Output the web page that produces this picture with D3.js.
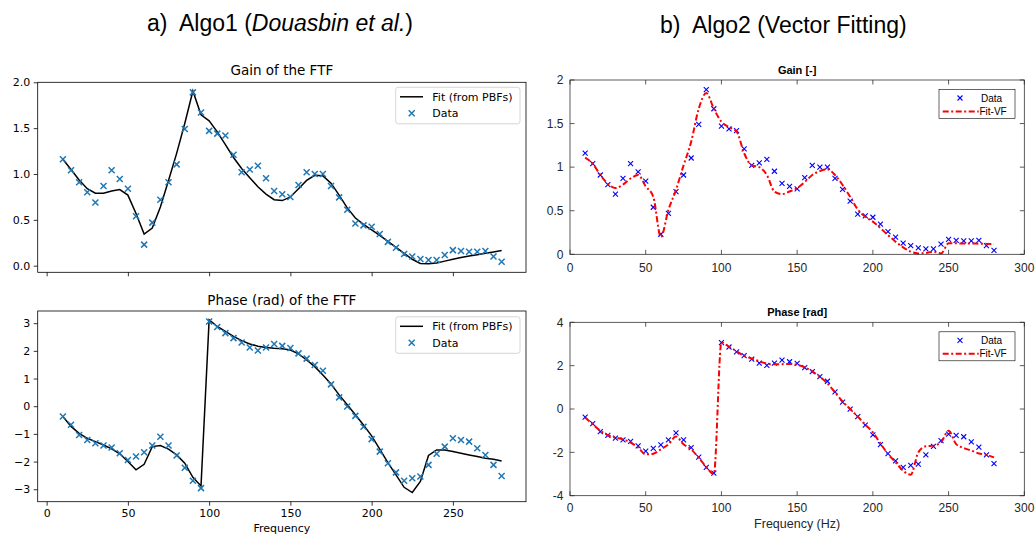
<!DOCTYPE html>
<html><head><meta charset="utf-8">
<script src="https://cdn.jsdelivr.net/npm/d3@7"></script>
<style>body{margin:0;background:#fff} svg{display:block}</style>
</head><body><svg id="c" width="1035" height="540"></svg>
<script>
// ---------------- DATA ----------------
const freq = [10,15,20,25,30,35,40,45,50,55,
  60,65,70,75,80,85,90,95,100,105,
  110,115,120,125,130,135,140,145,150,155,
  160,165,170,175,180,185,190,195,200,205,
  210,215,220,225,230,235,240,245,250,255,
  260,265,270,275,280];

const gainData = [1.16,1.04,0.91,0.80,0.69,0.87,1.04,0.945,0.84,0.54,
  0.23,0.47,0.72,0.91,1.105,1.49,1.89,1.67,1.47,1.44,
  1.42,1.21,1.02,1.05,1.09,0.953,0.815,0.78,0.75,0.88,
  1.02,1.00,1.00,0.87,0.745,0.61,0.46,0.44,0.425,0.345,
  0.26,0.196,0.128,0.10,0.073,0.062,0.062,0.117,0.17,0.16,
  0.153,0.153,0.16,0.10,0.044];

const phaseData = [-0.37,-0.67,-1.04,-1.22,-1.34,-1.42,-1.49,-1.70,-1.94,-1.82,
  -1.66,-1.42,-1.10,-1.42,-1.78,-2.22,-2.69,-2.96,3.06,2.86,
  2.64,2.46,2.30,2.12,2.01,2.12,2.25,2.18,2.10,1.91,
  1.72,1.49,1.28,0.79,0.32,-0.01,-0.35,-0.74,-1.19,-1.64,
  -2.06,-2.39,-2.69,-2.60,-2.54,-2.12,-1.72,-1.46,-1.16,-1.22,
  -1.28,-1.52,-1.76,-2.12,-2.52];

const gainFitPBF = [1.16,1.05,0.935,0.84,0.79,0.79,0.815,0.83,0.77,0.57,
  0.345,0.41,0.64,0.93,1.225,1.55,1.905,1.645,1.58,1.46,
  1.32,1.18,1.06,0.96,0.86,0.78,0.72,0.71,0.75,0.84,
  0.93,0.985,0.98,0.90,0.77,0.63,0.52,0.45,0.39,0.33,
  0.265,0.20,0.135,0.07,0.025,0.02,0.03,0.05,0.07,0.09,
  0.105,0.12,0.135,0.15,0.165];

const phaseFitPBF = [-0.37,-0.73,-0.98,-1.16,-1.28,-1.40,-1.54,-1.72,-2.00,-2.30,
  -2.10,-1.46,-1.42,-1.55,-1.76,-2.06,-2.57,-2.88,3.12,2.88,
  2.70,2.52,2.37,2.25,2.17,2.12,2.09,2.08,2.03,1.89,
  1.67,1.43,1.13,0.80,0.41,0.05,-0.31,-0.68,-1.07,-1.55,
  -2.04,-2.48,-2.93,-3.12,-2.72,-1.78,-1.58,-1.58,-1.64,-1.70,
  -1.76,-1.82,-1.88,-1.92,-1.98];

const gainFitVF = [1.11,1.04,0.91,0.81,0.76,0.80,0.87,0.91,0.78,0.66,
  0.20,0.51,0.74,1.02,1.29,1.67,1.85,1.67,1.52,1.46,
  1.41,1.16,1.02,1.00,0.91,0.72,0.69,0.72,0.76,0.83,
  0.91,0.955,0.975,0.91,0.795,0.66,0.515,0.43,0.375,0.30,
  0.22,0.145,0.08,0.03,0.01,0.015,0.03,0.01,0.126,0.126,
  0.124,0.124,0.122,0.12,0.118];

const phaseFitVF = [-0.39,-0.70,-1.00,-1.21,-1.32,-1.40,-1.55,-1.78,-2.09,-2.06,
  -1.86,-1.63,-1.27,-1.63,-1.86,-2.25,-2.68,-2.99,3.07,2.87,
  2.67,2.45,2.33,2.20,2.09,2.06,2.07,2.08,2.04,1.92,
  1.74,1.49,1.18,0.77,0.35,0.00,-0.35,-0.72,-1.08,-1.59,
  -2.08,-2.46,-2.85,-3.03,-2.00,-1.72,-1.69,-1.54,-1.00,-1.62,
  -1.80,-1.92,-2.05,-2.12,-2.23];

const xTicksL = [0,50,100,150,200,250];
const gainTicksL = [0.0,0.5,1.0,1.5,2.0];
const gainTickLabelsL = ["0.0","0.5","1.0","1.5","2.0"];
const phaseTicksL = [-3,-2,-1,0,1,2,3];
const phaseTickLabelsL = ["\u22123","\u22122","\u22121","0","1","2","3"];
const xTicksR = [0,50,100,150,200,250,300];
const gainTicksR = [0,0.5,1,1.5,2];
const gainTickLabelsR = ["0","0.5","1","1.5","2"];
const phaseTicksR = [-4,-2,0,2,4];
const phaseTickLabelsR = ["-4","-2","0","2","4"];

// ---------------- DRAW ----------------
const svg = d3.select('#c');
const MPL = "'DejaVu Sans', sans-serif";
const ML = "'Liberation Sans', Arial, sans-serif";
const blueMPL = "#1f77b4";

// headings
svg.append('text').attr('x',147).attr('y',31).attr('font-family',ML).attr('font-size',23)
  .style('white-space','pre').attr('fill','#000')
  .call(t=>{t.append('tspan').text('a)  Algo1 (');
            t.append('tspan').attr('font-style','italic').text('Douasbin et al.');
            t.append('tspan').text(')');});
svg.append('text').attr('x',660).attr('y',33).attr('font-family',ML).attr('font-size',23)
  .style('white-space','pre').attr('fill','#000').text('b)  Algo2 (Vector Fitting)');

function xMarker(g, cx, cy, s, color, w){
  g.append('path').attr('d',`M${cx-s},${cy-s}L${cx+s},${cy+s}M${cx-s},${cy+s}L${cx+s},${cy-s}`)
    .attr('stroke',color).attr('stroke-width',w).attr('fill','none');
}

// ---- matplotlib panels ----
const xL = d3.scaleLinear().domain([-5.5,295]).range([37.7,526]);
function mplPanel(y, fit, data, ticks, tickLabels, title, titleY, showX, legY){
  const g = svg.append('g');
  const [x0,x1] = xL.range(); const [yb,yt] = y.range();
  const ya = g.append('g').attr('transform',`translate(${x0},0)`)
    .call(d3.axisLeft(y).tickValues(ticks).tickFormat((d,i)=>tickLabels[i]).tickSize(4).tickPadding(3.5));
  const xa = g.append('g').attr('transform',`translate(0,${yb})`)
    .call(d3.axisBottom(xL).tickValues(xTicksL).tickFormat(showX? (d=>String(d)) : (()=>'')).tickSize(4).tickPadding(4));
  [ya,xa].forEach(a=>{a.select('.domain').remove();
    a.selectAll('text').attr('font-family',MPL).attr('font-size',11).attr('fill','#000');
    a.selectAll('line').attr('stroke','#000').attr('stroke-width',0.8);});
  const line = d3.line().x((d,i)=>xL(freq[i])).y(d=>y(d));
  g.append('path').attr('d',line(fit)).attr('fill','none').attr('stroke','#000').attr('stroke-width',1.5);
  data.forEach((d,i)=>xMarker(g,xL(freq[i]),y(d),3,blueMPL,1.5));
  g.append('rect').attr('x',x0).attr('y',yt).attr('width',x1-x0).attr('height',yb-yt)
    .attr('fill','none').attr('stroke','#000').attr('stroke-width',0.8);
  g.append('text').attr('x',(x0+x1)/2).attr('y',titleY).attr('text-anchor','middle')
    .attr('font-family',MPL).attr('font-size',13.5).text(title);
  const lg = g.append('g');
  lg.append('rect').attr('x',395.7).attr('y',legY).attr('width',124.3).attr('height',36.5).attr('rx',2.5)
    .attr('fill','#fff').attr('fill-opacity',0.8).attr('stroke','#cccccc').attr('stroke-width',0.8);
  lg.append('line').attr('x1',400).attr('x2',423).attr('y1',legY+9.5).attr('y2',legY+9.5).attr('stroke','#000').attr('stroke-width',1.5);
  xMarker(lg,411.7,legY+26,3,blueMPL,1.5);
  lg.append('text').attr('x',432.3).attr('y',legY+9.5).attr('dy','0.36em').attr('font-family',MPL).attr('font-size',11).text('Fit (from PBFs)');
  lg.append('text').attr('x',432.3).attr('y',legY+26).attr('dy','0.36em').attr('font-family',MPL).attr('font-size',11).text('Data');
  if(showX){
    g.append('text').attr('x',(x0+x1)/2).attr('y',532).attr('text-anchor','middle')
      .attr('font-family',MPL).attr('font-size',11).text('Frequency');
  }
}
const yLG = d3.scaleLinear().domain([-0.072,2.0]).range([272.3,82.3]);
const yLP = d3.scaleLinear().domain([-3.45,3.44]).range([501.7,311]);
mplPanel(yLG, gainFitPBF, gainData, gainTicksL, gainTickLabelsL, 'Gain of the FTF', 75, false, 87.3);
mplPanel(yLP, phaseFitPBF, phaseData, phaseTicksL, phaseTickLabelsL, 'Phase (rad) of the FTF', 304.5, true, 316.8);

// ---- MATLAB panels ----
const xR = d3.scaleLinear().domain([0,300]).range([570,1024.3]);
const AX = '#262626';
function mlPanel(y, data, fit, ticks, tickLabels, title, titleY, xlabY, showXlabel, legY){
  const g = svg.append('g');
  const [x0,x1] = xR.range(); const [yb,yt] = y.range();
  const tl = 4.5;
  xTicksR.forEach(t=>{
    const X = xR(t);
    g.append('line').attr('x1',X).attr('x2',X).attr('y1',yb).attr('y2',yb-tl).attr('stroke',AX).attr('stroke-width',0.75);
    g.append('line').attr('x1',X).attr('x2',X).attr('y1',yt).attr('y2',yt+tl).attr('stroke',AX).attr('stroke-width',0.75);
    g.append('text').attr('x',X).attr('y',xlabY).attr('text-anchor','middle').attr('font-family',ML)
      .attr('font-size',12).attr('fill',AX).text(String(t));
  });
  ticks.forEach((t,i)=>{
    const Y = y(t);
    g.append('line').attr('x1',x0).attr('x2',x0+tl).attr('y1',Y).attr('y2',Y).attr('stroke',AX).attr('stroke-width',0.75);
    g.append('line').attr('x1',x1).attr('x2',x1-tl).attr('y1',Y).attr('y2',Y).attr('stroke',AX).attr('stroke-width',0.75);
    g.append('text').attr('x',563.5).attr('y',Y).attr('dy','0.35em').attr('text-anchor','end').attr('font-family',ML)
      .attr('font-size',12).attr('fill',AX).text(tickLabels[i]);
  });
  data.forEach((d,i)=>xMarker(g,xR(freq[i]),y(d),2.5,'#0000ff',1.1));
  const line = d3.line().x((d,i)=>xR(freq[i])).y(d=>y(d)).curve(d3.curveMonotoneX);
  g.append('path').attr('d',line(fit)).attr('fill','none').attr('stroke','#ff0000').attr('stroke-width',2)
    .attr('stroke-dasharray','6,2.5,2,2.5');
  g.append('rect').attr('x',x0).attr('y',yt).attr('width',x1-x0).attr('height',yb-yt)
    .attr('fill','none').attr('stroke',AX).attr('stroke-width',0.75);
  g.append('text').attr('x',(x0+x1)/2).attr('y',titleY).attr('text-anchor','middle')
    .attr('font-family',ML).attr('font-size',11).attr('font-weight','bold').attr('fill','#000').text(title);
  if(showXlabel){
    g.append('text').attr('x',(x0+x1)/2).attr('y',528).attr('text-anchor','middle')
      .attr('font-family',ML).attr('font-size',12.5).attr('fill',AX).text('Frequency (Hz)');
  }
  const lg = g.append('g');
  lg.append('rect').attr('x',939).attr('y',legY).attr('width',76).attr('height',29)
    .attr('fill','#fff').attr('stroke','#000').attr('stroke-width',0.6);
  xMarker(lg,960,legY+8.5,2.5,'#0000ff',1.1);
  lg.append('text').attr('x',981).attr('y',legY+8.5).attr('dy','0.35em').attr('font-family',ML).attr('font-size',10).text('Data');
  lg.append('line').attr('x1',942.7).attr('x2',978.7).attr('y1',legY+22).attr('y2',legY+22)
    .attr('stroke','#ff0000').attr('stroke-width',2).attr('stroke-dasharray','6,2.5,2,2.5');
  lg.append('text').attr('x',979.5).attr('y',legY+22).attr('dy','0.35em').attr('font-family',ML).attr('font-size',10).text('Fit-VF');
}
const yRG = d3.scaleLinear().domain([0,2]).range([254.3,80]);
const yRP = d3.scaleLinear().domain([-4,4]).range([495.7,322.3]);
mlPanel(yRG, gainData, gainFitVF, gainTicksR, gainTickLabelsR, 'Gain [-]', 73.5, 271.7, false, 89.5);
mlPanel(yRP, phaseData, phaseFitVF, phaseTicksR, phaseTickLabelsR, 'Phase [rad]', 315.5, 512.3, true, 331.8);
</script>
</body></html>
